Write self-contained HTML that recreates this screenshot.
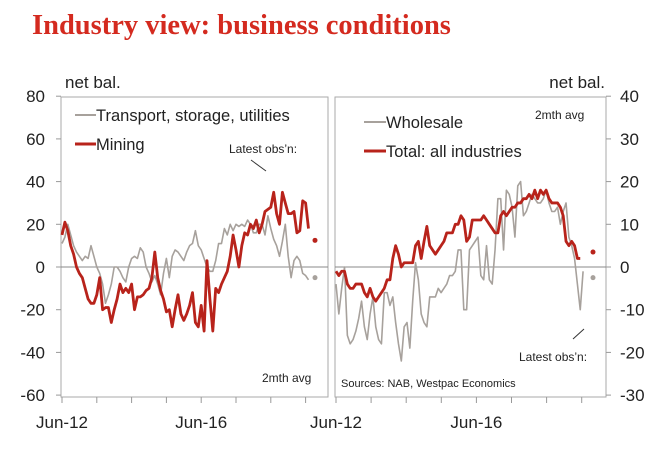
<!DOCTYPE html>
<html><head><meta charset="utf-8"><style>
body{margin:0;background:#fff;}
svg text{font-family:"Liberation Sans",sans-serif;fill:#222;}
</style></head><body>
<svg width="660" height="445" viewBox="0 0 660 445">
<text x="32" y="34" style="font-family:'Liberation Serif',serif;font-weight:bold;font-size:28.5px;fill:#d42a1f">Industry view: business conditions</text>
<g id="g"></g>
</svg>
<script>
const leftTicks=[80,60,40,20,0,-20,-40,-60];
const rightTicks=[40,30,20,10,0,-10,-20,-30];
const xLabels=["Jun-12","Jun-16"];
const mining=[15,21,17,10,6,0,-3,-5,-10,-15,-17,-17,-13,-5,-20,-19,-19,-26,-20,-15,-8,-12,-10,-12,-8,-20,-14,-14,-13,-11,-10,-5,7,-5,-11,-15,-21,-20,-28,-20,-13,-22,-25,-22,-18,-12,-26,-28,-18,-30,3,-15,-30,-10,-12,-8,-5,-2,5,15,8,0,10,16,15,20,18,22,16,20,26,27,28,35,25,20,35,30,25,25,26,16,17,31,30,18];
const transport=[11,14,20,15,10,7,5,3,5,4,10,5,0,-3,-8,-17,-13,-8,0,0,-2,-5,-7,0,4,5,4,9,7,0,-3,-7,-4,-8,-13,-3,4,-5,5,8,7,5,3,7,10,11,17,10,8,4,0,-2,-2,3,11,11,18,15,20,17,20,19,20,19,22,20,16,16,20,20,15,24,18,13,10,5,12,20,5,-5,3,5,3,-3,-4,-6];
const total=[-1,-2,-1,-1,-4,-5,-5,-4,-4,-4,-6,-7,-5,-7,-8,-7,-6,-5,-3,-3,2,5,3,0,1,1,1,1,5,6,2,6,9.5,5,4,3,4,5,6,8,8,8,10,10,12,11,6,7,11,11,11,11,12,11,10,9,8,8,12,13,12,13,14,14,15,15,16,16,17,16,18,16,18,17,18,16,15,15,15,14,12,6,5,6,5,2,2];
const wholesale=[-4,-11,-5,0,-16,-18,-17,-15,-12,-8,-14,-17,-11,-7,-14,-17,-18,-6,-6,-9,-7,-13,-18,-22,-14,-13,-19,-8,1,-3,-11,-13,-14,-7,-7,-7,-5,-6,-5,-4,-2,-2,-1,4,4,-10,-10,4,5,6,7,-2,-3,5,-3,-4,4,16,16,4,18,17,14,7,19,20,12,13,15,17,16,15,15,16,18,15,13,13,14,10,13,15,7,5,2,-4,-10,-1];
const latestLeft={mining:12.5,transport:-5};
const latestRight={total:3.5,wholesale:-2.5};
const NS="http://www.w3.org/2000/svg";
const g=document.getElementById('g');
function mk(t,a,name,parent){const e=document.createElementNS(NS,t);for(const k in a)e.setAttribute(k,a[k]);


(parent||g).appendChild(e);return e;}
const Y0=267,PX=42.7;
const yL=v=>Y0-v/20*PX, yR=v=>Y0-v/10*PX;
const mo=34.8/12;
const xL=i=>62+i*mo, xR=i=>336+i*2.84;
const xRt=k=>336+k*35.1;
mk('rect',{x:61,y:97,width:267,height:300,fill:'none',stroke:'#aaa','stroke-width':1},'left-panel-frame');
mk('rect',{x:335,y:97,width:271,height:300,fill:'none',stroke:'#aaa','stroke-width':1},'right-panel-frame');
mk('line',{x1:61,x2:328,y1:Y0,y2:Y0,stroke:'#888','stroke-width':1},'left-zero-line');
mk('line',{x1:335,x2:606,y1:Y0,y2:Y0,stroke:'#888','stroke-width':1},'right-zero-line');
leftTicks.forEach(v=>{const y=yL(v);
mk('line',{x1:56,x2:61,y1:y,y2:y,stroke:'#999'},'left-y-tick');
const t=mk('text',{x:45,y:y+6,'text-anchor':'end','font-size':17},'left-y-tick-label');t.textContent=v;});
rightTicks.forEach(v=>{const y=yR(v);
mk('line',{x1:606,x2:611,y1:y,y2:y,stroke:'#999'},'right-y-tick');
const t=mk('text',{x:620,y:y+6,'font-size':17},'right-y-tick-label');t.textContent=v;});
for(let k=0;k<8;k++){mk('line',{x1:xL(k*12),x2:xL(k*12),y1:397,y2:403,stroke:'#999'},'left-x-tick');
mk('line',{x1:xRt(k),x2:xRt(k),y1:397,y2:403,stroke:'#999'},'right-x-tick');}
[[xL(0),xLabels[0]],[xL(48),xLabels[1]],[xRt(0),xLabels[0]],[xRt(4),xLabels[1]]].forEach(([x,s])=>{
const t=mk('text',{x:x,y:428,'text-anchor':'middle','font-size':17},'x-axis-label');t.textContent=s;});
function line(arr,xf,yf,col,w,name){mk('polyline',{points:arr.map((v,i)=>xf(i)+','+yf(v)).join(' '),fill:'none',stroke:col,'stroke-width':w,'stroke-linejoin':'round'},name);}
line(transport,xL,yL,'#a7a19c',1.6,'transport-line');
line(mining,xL,yL,'#b8231b',2.8,'mining-line');
line(wholesale,xR,yR,'#a7a19c',1.6,'wholesale-line');
line(total,xR,yR,'#b8231b',2.8,'total-line');
mk('circle',{cx:315,cy:yL(latestLeft.mining),r:2.5,fill:'#b8231b'},'mining-latest-dot');
mk('circle',{cx:315,cy:yL(latestLeft.transport),r:2.5,fill:'#a7a19c'},'transport-latest-dot');
mk('circle',{cx:593,cy:yR(latestRight.total),r:2.5,fill:'#b8231b'},'total-latest-dot');
mk('circle',{cx:593,cy:yR(latestRight.wholesale),r:2.5,fill:'#a7a19c'},'wholesale-latest-dot');
function txt(x,y,s,fs,name,anchor){const t=mk('text',{x:x,y:y,'font-size':fs,'text-anchor':anchor||'start'},name);t.textContent=s;}
txt(65,88,'net bal.',17,'left-unit-label');
txt(605,88,'net bal.',17,'right-unit-label','end');
mk('line',{x1:75,x2:96,y1:115,y2:115,stroke:'#a7a19c','stroke-width':2},'legend-transport-swatch');
txt(96,121,'Transport, storage, utilities',16.5,'legend-transport');
mk('line',{x1:75,x2:96,y1:144,y2:144,stroke:'#b8231b','stroke-width':3},'legend-mining-swatch');
txt(96,150,'Mining',16.5,'legend-mining');
mk('line',{x1:364,x2:386,y1:122,y2:122,stroke:'#a7a19c','stroke-width':2},'legend-wholesale-swatch');
txt(386,128,'Wholesale',16.5,'legend-wholesale');
mk('line',{x1:364,x2:386,y1:151,y2:151,stroke:'#b8231b','stroke-width':3},'legend-total-swatch');
txt(386,157,'Total: all industries',16.5,'legend-total');
txt(229,153,"Latest obs’n:",12,'left-latest-note');
mk('line',{x1:251,x2:266,y1:160,y2:171,stroke:'#333'},'left-latest-pointer');
txt(262,382,'2mth avg',12,'left-avg-note');
txt(535,119,'2mth avg',12,'right-avg-note');
txt(519,361,"Latest obs’n:",12,'right-latest-note');
mk('line',{x1:573,x2:584,y1:339,y2:329,stroke:'#333'},'right-latest-pointer');
txt(341,387,'Sources: NAB, Westpac Economics',11,'sources-note');
</script>
</body></html>
